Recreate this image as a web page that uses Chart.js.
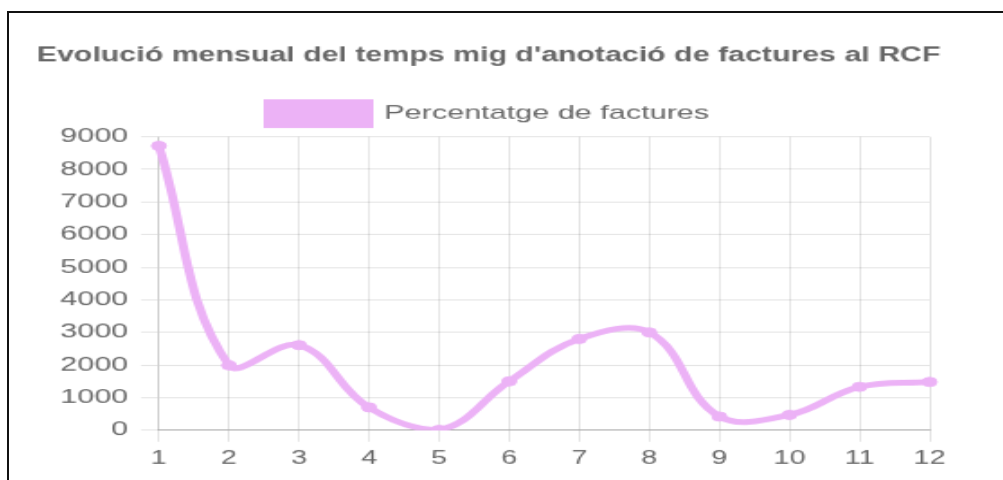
<!DOCTYPE html>
<html>
<head>
<meta charset="utf-8">
<script src="https://cdn.jsdelivr.net/npm/chart.js@4/dist/chart.umd.min.js"></script>
<style>
    html, body { margin: 0; padding: 0; background: #fff; overflow: hidden; }
    #frame {
        position: absolute; left: 7px; top: 11px; width: 1200px; height: 700px;
        border-top: 2px solid #111; border-left: 2px solid #111;
    }
    #chart {
        position: absolute; left: 8px; top: 13px;
        transform: scale(1.8, 1.15); transform-origin: 0 0;
    }
</style>
</head>
<body>
<div id="frame"></div>
<canvas id="chart" width="540" height="403"></canvas>
<script>
const months = ['1', '2', '3', '4', '5', '6', '7', '8', '9', '10', '11', '12'];
const invoiceValues = [8720, 1990, 2610, 700, 10, 1500, 2800, 3000, 420, 470, 1330, 1480];
const yTicks = [0, 1000, 2000, 3000, 4000, 5000, 6000, 7000, 8000, 9000];

const titleText = "Evolució mensual del temps mig d'anotació de factures al RCF";
const seriesLabel = 'Percentatge de factures';
const lineColor = 'rgb(236, 178, 246)';
const textColor = '#666';

document.addEventListener('DOMContentLoaded', () => {
    const ctx = document.getElementById('chart').getContext('2d');
    Chart.defaults.font.family = "'Liberation Sans', Arial, sans-serif";
    Chart.defaults.color = textColor;

    new Chart(ctx, {
        type: 'line',
        data: {
            labels: months,
            datasets: [{
                label: seriesLabel,
                data: invoiceValues,
                borderColor: lineColor,
                backgroundColor: lineColor,
                borderWidth: 5,
                tension: 0.4,
                fill: false,
                pointRadius: 4,
                pointBorderWidth: 1,
                pointBackgroundColor: lineColor,
                pointBorderColor: lineColor,
            }],
        },
        options: {
            responsive: false,
            animation: false,
            devicePixelRatio: 1,
            layout: { padding: { top: 18, left: 16, right: 22, bottom: 0 } },
            plugins: {
                title: {
                    display: true,
                    text: titleText,
                    color: textColor,
                    font: { size: 18, weight: 'bold' },
                    padding: { top: 8, bottom: 20 },
                },
                legend: {
                    labels: {
                        boxWidth: 56,
                        boxHeight: 20,
                        color: textColor,
                        font: { size: 17 },
                    },
                },
                tooltip: { enabled: false },
            },
            scales: {
                x: {
                    grid: { color: 'rgba(0,0,0,0.1)', tickLength: 10 },
                    border: { color: 'rgba(0,0,0,0.25)' },
                    ticks: { font: { size: 16 }, padding: 5.5, color: textColor },
                },
                y: {
                    min: 0,
                    max: 9000,
                    afterBuildTicks: (axis) => { axis.ticks = yTicks.map((v) => ({ value: v })); },
                    afterFit: (axis) => { axis.width += 6; },
                    grid: { color: 'rgba(0,0,0,0.1)', tickLength: 10 },
                    border: { color: 'rgba(0,0,0,0.1)' },
                    ticks: {
                        font: { size: 17 },
                        padding: 7,
                        color: textColor,
                        callback: (value) => String(value),
                    },
                },
                // empty right-hand axis, only keeps a margin on that side
                spacer: {
                    type: 'linear',
                    position: 'right',
                    grid: { display: false },
                    border: { display: false },
                    ticks: { display: false },
                    afterFit: (axis) => { axis.width = 6; },
                },
            },
        },
    });
});
</script>
</body>
</html>
